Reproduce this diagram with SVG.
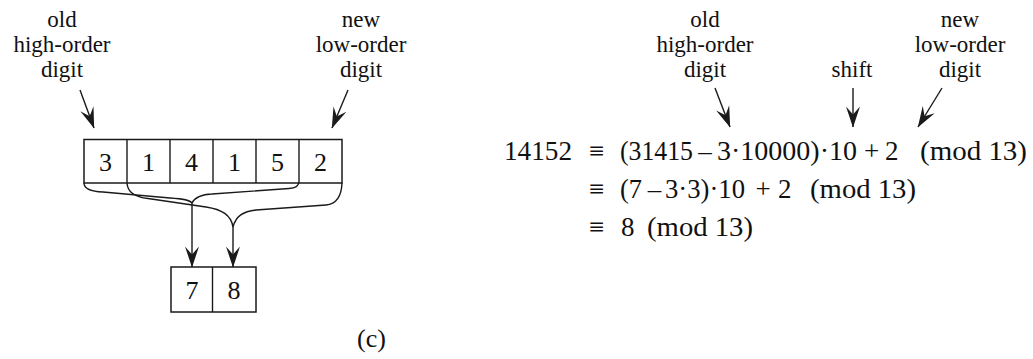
<svg xmlns="http://www.w3.org/2000/svg" width="1033" height="359" viewBox="0 0 1033 359">
<style>
.t{font-family:"Liberation Serif","Times New Roman",serif;fill:#111}
.lbl{font-size:23px;text-anchor:middle}
.dig{font-size:26px;text-anchor:middle}
.eq{font-size:27px}
.m{text-anchor:middle}
.box{fill:#fff;stroke:#1a1a1a;stroke-width:1.5}
.ln{fill:none;stroke:#1a1a1a;stroke-width:1.4}
.ar{fill:none;stroke:#1a1a1a;stroke-width:1.4;marker-end:url(#ah)}
</style>
<defs>
<marker id="ah" markerUnits="userSpaceOnUse" viewBox="0 0 21 15" refX="20.5" refY="7.5" markerWidth="21" markerHeight="15" orient="auto">
<path d="M21,7.5 L0,0.5 L8,7.5 L0,14.5 Z" fill="#1a1a1a"/>
</marker>
</defs>
<rect width="1033" height="359" fill="#fff"/>

<g id="label-left-old">
<text class="t lbl" x="62" y="27">old</text>
<text class="t lbl" x="62" y="52">high-order</text>
<text class="t lbl" x="62" y="77">digit</text>
</g>
<g id="label-left-new">
<text class="t lbl" x="361" y="27">new</text>
<text class="t lbl" x="361" y="52">low-order</text>
<text class="t lbl" x="361" y="77">digit</text>
</g>

<g id="window-top">
<rect class="box" x="84" y="139.5" width="258" height="43.5"/>
<line class="ln" x1="127" y1="139.5" x2="127" y2="183"/>
<line class="ln" x1="170" y1="139.5" x2="170" y2="183"/>
<line class="ln" x1="213" y1="139.5" x2="213" y2="183"/>
<line class="ln" x1="256" y1="139.5" x2="256" y2="183"/>
<line class="ln" x1="299" y1="139.5" x2="299" y2="183"/>
<text class="t dig" x="105.5" y="171">3</text>
<text class="t dig" x="148.5" y="171">1</text>
<text class="t dig" x="191.5" y="171">4</text>
<text class="t dig" x="234.5" y="171">1</text>
<text class="t dig" x="277.5" y="171">5</text>
<text class="t dig" x="320.5" y="171">2</text>
</g>

<g id="result-bottom">
<rect class="box" x="171" y="267" width="85" height="45"/>
<line class="ln" x1="212.5" y1="267" x2="212.5" y2="312"/>
<text class="t dig" x="192" y="298.5">7</text>
<text class="t dig" x="234" y="298.5">8</text>
</g>

<g id="connectors">
<line class="ar" x1="80" y1="90" x2="94" y2="128"/>
<line class="ar" x1="348" y1="90" x2="332" y2="128"/>
<path class="ln" d="M84,183 C84,189 90,191.5 103,192 L170,198 C184,199 190,200 192,203"/>
<path class="ln" d="M192,203 C195,197 201,194.5 212,194 L289,188.5 C296,188 298.5,186 298.5,183"/>
<path class="ln" d="M127,183 C127.5,192 134,197 148,198.5 L206,207 C222,209.5 231,215 233,227"/>
<path class="ln" d="M233,227 C236,216 243,211.5 256,210 L326,205 C337,204 341.5,196 342,183"/>
<line class="ar" x1="192" y1="203" x2="192" y2="267"/>
<line class="ar" x1="233" y1="227" x2="233" y2="267"/>
<line class="ar" x1="715" y1="88" x2="730" y2="127"/>
<line class="ar" x1="853" y1="88" x2="853" y2="127"/>
<line class="ar" x1="942" y1="88" x2="918" y2="127"/>
</g>

<g id="label-right-old">
<text class="t lbl" x="705" y="27">old</text>
<text class="t lbl" x="705" y="52">high-order</text>
<text class="t lbl" x="705" y="77">digit</text>
</g>
<g id="label-shift">
<text class="t lbl" x="852" y="77">shift</text>
</g>
<g id="label-right-new">
<text class="t lbl" x="960" y="27">new</text>
<text class="t lbl" x="960" y="52">low-order</text>
<text class="t lbl" x="960" y="77">digit</text>
</g>

<g id="equation">
<text class="t eq" x="504" y="160" textLength="68" lengthAdjust="spacingAndGlyphs">14152</text>
<text class="t eq m" x="596.5" y="160">≡</text>
<text class="t eq" x="620" y="160" textLength="73" lengthAdjust="spacingAndGlyphs">(31415</text>
<text class="t eq m" x="705" y="160">–</text>
<text class="t eq" x="717" y="160" textLength="140" lengthAdjust="spacingAndGlyphs">3·10000)·10</text>
<text class="t eq m" x="871.5" y="160">+</text>
<text class="t eq" x="885" y="160">2</text>
<text class="t eq" x="920" y="160" textLength="107" lengthAdjust="spacingAndGlyphs">(mod 13)</text>

<text class="t eq m" x="596.5" y="198">≡</text>
<text class="t eq" x="620" y="198" textLength="22" lengthAdjust="spacingAndGlyphs">(7</text>
<text class="t eq m" x="654.5" y="198">–</text>
<text class="t eq" x="665" y="198" textLength="80" lengthAdjust="spacingAndGlyphs">3·3)·10</text>
<text class="t eq m" x="763" y="198">+</text>
<text class="t eq" x="778" y="198">2</text>
<text class="t eq" x="810" y="198" textLength="106" lengthAdjust="spacingAndGlyphs">(mod 13)</text>

<text class="t eq m" x="596.5" y="236">≡</text>
<text class="t eq" x="621" y="236">8</text>
<text class="t eq" x="647" y="236" textLength="106" lengthAdjust="spacingAndGlyphs">(mod 13)</text>
</g>

<g id="caption">
<text class="t" x="371.5" y="347" font-size="26" text-anchor="middle">(c)</text>
</g>
</svg>
